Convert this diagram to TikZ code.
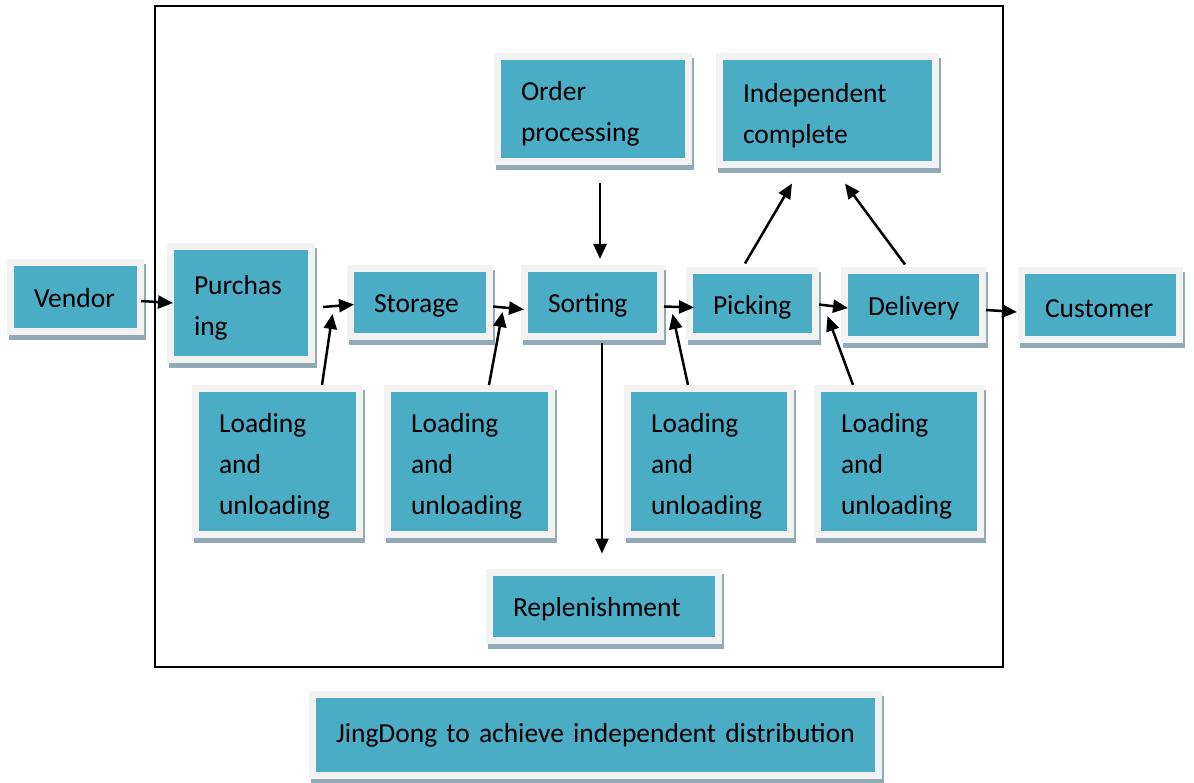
\documentclass[tikz,border=0pt]{standalone}
\usepackage{fontspec}
\setmainfont{Carlito}
\usetikzlibrary{arrows.meta}

\definecolor{boxteal}{HTML}{4BACC6}
\definecolor{framegray}{HTML}{F2F2F2}
\definecolor{shadegray}{HTML}{93AAB4}

\tikzset{
	blk/.style={fill=boxteal, draw=framegray, line width=7pt,
		preaction={fill=shadegray, draw=shadegray, line width=7pt,
			transform canvas={shift={(2pt,-5pt)}}},
		inner xsep=23.5pt, inner ysep=0pt, align=left,
		font=\fontsize{27.5}{41}\selectfont},
	arr/.style={line width=2.5pt, -{Triangle[length=15pt,width=13pt]}}
}

% box: [strut], name, centre, teal width, teal height, text
\newcommand{\tealbox}[7][29pt]{%
	\node[blk, text width=#5pt-40pt, minimum width=#5pt+7pt,
		minimum height=#6pt+7pt] (#2) at (#3,#4) {\rule{0pt}{#1}#7};}

\begin{document}
\begin{tikzpicture}[x=1pt,y=-1pt]
	
	\useasboundingbox (0,0) rectangle (1194,783);
	
	\draw[line width=2pt] (155,6) rectangle (1003,667);
	
	\tealbox[22pt]{vendor}{75.5}{297}{123}{62}{Vendor}
	\tealbox{purch}{241}{303}{134}{106}{Purchas\\ing}
	\tealbox[25pt]{storage}{420}{302.5}{132}{61}{Storage}
	\tealbox[25pt]{sorting}{592.5}{302.5}{129}{61}{Sorting}
	\tealbox[27pt]{picking}{752.5}{303.5}{119}{59}{Picking}
	\tealbox[26pt]{delivery}{913.5}{305}{131}{62}{Delivery}
	\tealbox[25pt]{customer}{1100.5}{305}{151}{62}{Customer}
	
	\tealbox{order}{593}{109}{184}{98}{Order\\processing}
	\tealbox{indep}{827.5}{110.5}{209}{101}{Independent\\complete}
	
	\tealbox{loadA}{277.5}{461.5}{157}{139}{Loading\\and\\unloading}
	\tealbox{loadB}{469.5}{461.5}{157}{139}{Loading\\and\\unloading}
	\tealbox{loadC}{709}{461.5}{156}{139}{Loading\\and\\unloading}
	\tealbox{loadD}{899}{461.5}{156}{139}{Loading\\and\\unloading}
	
	\tealbox[25pt]{replen}{604}{606.5}{222}{61}{Replenishment}
	\tealbox[14pt]{jingdong}{595.5}{735}{559}{74}{JingDong to achieve independent distribution}
	
	% main flow
	\draw[arr] ([xshift=-3pt,yshift=-4pt]vendor.east) -- ([xshift=6pt]purch.west);
	\draw[arr] ([xshift=8pt,yshift=-4pt]purch.east) -- ([xshift=7pt,yshift=-2pt]storage.west);
	\draw[arr] ([yshift=-4pt]storage.east) -- ([xshift=3pt,yshift=-7pt]sorting.west);
	\draw[arr] ([yshift=-4pt]sorting.east) -- ([xshift=8pt,yshift=-4pt]picking.west);
	\draw[arr] ([yshift=-1pt]picking.east) -- ([xshift=7pt,yshift=-3pt]delivery.west);
	\draw[arr] ([yshift=-5pt]delivery.east) -- ([xshift=-1pt,yshift=-7pt]customer.west);
	
	\draw[arr] ([xshift=7pt,yshift=-18pt]order.south) -- ([xshift=7.5pt,yshift=6pt]sorting.north);
	\draw[arr] ([xshift=9.5pt,yshift=-3.5pt]sorting.south) -- ([xshift=-2pt,yshift=15.5pt]replen.north);
	
	\draw[arr] ([xshift=-7.5pt,yshift=3.5pt]picking.north) -- ([xshift=-35.5pt,yshift=-15.5pt]indep.south);
	\draw[arr] ([xshift=-8.5pt,yshift=2.5pt]delivery.north) -- ([xshift=17.5pt,yshift=-15.5pt]indep.south);
	
	% loading and unloading
	\draw[arr] ([xshift=44.5pt]loadA.north) -- ([xshift=-14.5pt,yshift=-11.5pt]storage.west);
	\draw[arr] ([xshift=19.5pt]loadB.north) -- ([xshift=-18.5pt,yshift=-9.5pt]sorting.west);
	\draw[arr] ([xshift=-21pt]loadC.north) -- ([xshift=-13.5pt,yshift=-10.5pt]picking.west);
	\draw[arr] ([xshift=-46pt]loadD.north) -- ([xshift=-13.5pt,yshift=-11pt]delivery.west);
	
\end{tikzpicture}
\end{document}
